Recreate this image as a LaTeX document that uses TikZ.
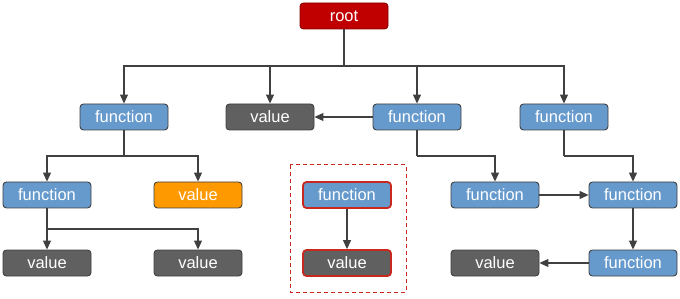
\documentclass[tikz,border=0pt]{standalone}
\usepackage{fontspec}
\setmainfont{Liberation Sans}
\usetikzlibrary{arrows.meta}
\definecolor{fblue}{RGB}{102,153,204}
\definecolor{vgrey}{RGB}{96,96,96}
\definecolor{vorange}{RGB}{255,153,0}
\definecolor{rootred}{RGB}{192,0,0}
\definecolor{edge}{RGB}{64,64,64}
\definecolor{hired}{RGB}{200,40,30}
\tikzset{
  box/.style={draw=edge, line width=0.9pt, rounded corners=3.5pt, minimum width=88pt, minimum height=26pt, inner sep=0pt, text=white, font=\fontsize{16.5}{17}\selectfont},
  fn/.style={box, fill=fblue},
  val/.style={box, fill=vgrey},
  hot/.style={draw=hired, line width=1.8pt},
  link/.style={draw=edge, line width=1.1pt, -{Triangle[length=9pt,width=8pt]}},
  plain/.style={draw=edge, line width=1.1pt}
}
\begin{document}
\begin{tikzpicture}[x=1pt,y=-1pt]
\useasboundingbox (0,0) rectangle (680,299);
\node[box, fill=rootred, draw=rootred!70!black] (root) at (344,16) {root};
\node[fn]  (f1) at (124,117) {function};
\node[val] (v1) at (270,117) {value};
\node[fn]  (f2) at (417,117) {function};
\node[fn]  (f3) at (564,117) {function};
\node[fn]  (f11) at (47,195) {function};
\node[box, fill=vorange] (v12) at (198,195) {value};
\node[fn, hot] (fh) at (347,195) {function};
\node[fn]  (f21) at (495,195) {function};
\node[fn]  (f31) at (633,195) {function};
\node[val] (v111) at (47,263) {value};
\node[val] (v112) at (198,263) {value};
\node[val, hot] (vh) at (347,263) {value};
\node[val] (v21) at (495,263) {value};
\node[fn]  (f32) at (633,263) {function};
\draw[dashed, draw=hired, line width=1pt, dash pattern=on 4pt off 3pt] (290,165) rectangle (406,292);
% root bus
\coordinate (rb) at (344,66);
\draw[plain] (root.south) -- (rb);
\draw[link] (rb) -| (f1.north);
\draw[link] (rb) -| (v1.north);
\draw[link] (rb) -| (f2.north);
\draw[link] (rb) -| (f3.north);
% f1 bus
\coordinate (b1) at (124,156);
\draw[plain] (f1.south) -- (b1);
\draw[link] (b1) -| (f11.north);
\draw[link] (b1) -| (v12.north);
% f11 bus
\coordinate (b2) at (47,229);
\draw[plain] (f11.south) -- (b2);
\draw[link] (b2) -- (v111.north);
\draw[link] (b2) -| (v112.north);
% f2
\draw[link] (f2.west) -- (v1.east);
\coordinate (b3) at (417,156);
\draw[plain] (f2.south) -- (b3);
\draw[link] (b3) -| (f21.north);
% f3
\coordinate (b4) at (564,156);
\draw[plain] (f3.south) -- (b4);
\draw[link] (b4) -| (f31.north);
\draw[link] (f21.east) -- (f31.west);
\draw[link] (f31.south) -- (f32.north);
\draw[link] (f32.west) -- (v21.east);
% highlighted
\draw[link] (fh.south) -- (vh.north);
\end{tikzpicture}
\end{document}
